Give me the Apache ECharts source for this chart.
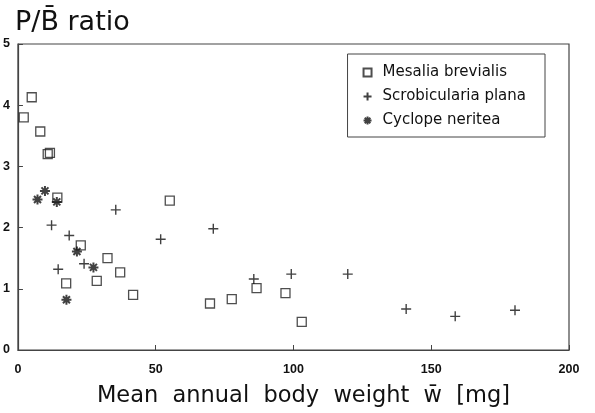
<!DOCTYPE html>
<html><head><meta charset="utf-8">
<script src="https://cdn.jsdelivr.net/npm/echarts@6/dist/echarts.min.js"></script>
<style>html,body{margin:0;padding:0;background:#fff}#c{width:595px;height:413px}</style>
</head><body><div id="c"></div>
<script>
// Mesalia brevialis (squares): [weight mg, P/B]
const mesaliaX = [2.1, 5.0, 8.1, 10.8, 11.6, 14.3, 22.8, 17.5, 32.5, 28.6, 37.1, 41.8, 55.1, 69.7, 77.6, 86.6, 97.1, 103.0];
const mesaliaY = [3.80, 4.13, 3.57, 3.20, 3.22, 2.49, 1.71, 1.09, 1.50, 1.13, 1.27, 0.90, 2.44, 0.76, 0.83, 1.01, 0.93, 0.46];
// Scrobicularia plana (plus)
const scrobX = [12.2, 18.6, 14.6, 24.0, 35.5, 51.8, 70.9, 85.6, 99.2, 119.7, 140.9, 158.7, 180.4];
const scrobY = [2.04, 1.87, 1.32, 1.41, 2.29, 1.81, 1.98, 1.16, 1.24, 1.24, 0.67, 0.55, 0.65];
// Cyclope neritea (asterisk)
const cycloX = [7.1, 9.8, 14.1, 21.4, 27.4, 17.6];
const cycloY = [2.46, 2.60, 2.42, 1.61, 1.35, 0.82];
const xTicks = [0, 50, 100, 150, 200];
const yTicks = [0, 1, 2, 3, 4, 5];
const seriesNames = ['Mesalia brevialis', 'Scrobicularia plana', 'Cyclope neritea'];

const zip = (a, b) => a.map((v, i) => [v, b[i]]);
const squarePath = 'path://M0,0L10,0L10,10L0,10Z';
const plusPath = 'path://M0,5L10,5M5,0L5,10';
const starPath = 'path://M0,5L10,5M5,0L5,10M1.5,1.5L8.5,8.5M8.5,1.5L1.5,8.5';
const font = 'DejaVu Sans, Verdana, sans-serif';
const tickFont = 'Liberation Sans, Arial, Helvetica, sans-serif';

const chart = echarts.init(document.getElementById('c'), null, {renderer: 'canvas'});
chart.setOption({
  animation: false,
  backgroundColor: '#fff',
  title: {
    text: 'P/B\u0304 ratio', left: 15, top: 9, padding: 0,
    textStyle: {fontFamily: font, fontSize: 27, fontWeight: 'normal', color: '#111'}
  },
  grid: {left: 17, right: 26, top: 44, bottom: 57, show: true, borderColor: '#444', borderWidth: 1.2, backgroundColor: 'transparent'},
  legend: {
    right: 50, top: 54, orient: 'vertical', itemGap: 9, itemWidth: 20, itemHeight: 8,
    padding: [11, 19, 9, 15], borderColor: '#444', borderWidth: 1, backgroundColor: '#fff',
    textStyle: {fontFamily: font, fontSize: 15, color: '#111'},
    data: [
      {name: seriesNames[0], icon: squarePath},
      {name: seriesNames[1], icon: plusPath},
      {name: seriesNames[2], icon: starPath}
    ]
  },
  xAxis: {
    type: 'value', min: 0, max: 200, interval: 50,
    name: 'Mean  annual  body  weight  w\u0304  [mg]', nameLocation: 'middle', nameGap: 35,
    nameTextStyle: {fontFamily: font, fontSize: 22.5, color: '#111', padding: [0, 0, 0, 20]},
    axisLine: {show: true, lineStyle: {color: '#444', width: 1.2}},
    axisTick: {show: true, inside: true, length: 5, lineStyle: {color: '#444'}},
    axisLabel: {fontFamily: tickFont, fontSize: 12.5, fontWeight: 'bold', color: '#111', margin: 13,
      formatter: v => xTicks.includes(v) ? String(v) : ''},
    splitLine: {show: false}
  },
  yAxis: {
    type: 'value', min: 0, max: 5, interval: 1,
    axisLine: {show: true, lineStyle: {color: '#444', width: 1.2}},
    axisTick: {show: true, inside: true, length: 5, lineStyle: {color: '#444'}},
    axisLabel: {fontFamily: tickFont, fontSize: 12.5, fontWeight: 'bold', color: '#111', margin: 8,
      formatter: v => yTicks.includes(v) ? String(v) : ''},
    splitLine: {show: false}
  },
  series: [
    {name: seriesNames[0], type: 'scatter', symbol: 'rect', symbolSize: 9, data: zip(mesaliaX, mesaliaY),
      itemStyle: {color: 'rgba(255,255,255,0)', borderColor: '#222', borderWidth: 1.3}},
    {name: seriesNames[1], type: 'scatter', symbol: plusPath, symbolSize: 10, data: zip(scrobX, scrobY),
      itemStyle: {color: 'rgba(0,0,0,0)', borderColor: '#111', borderWidth: 1.4}},
    {name: seriesNames[2], type: 'scatter', symbol: starPath, symbolSize: 10, data: zip(cycloX, cycloY),
      itemStyle: {color: 'rgba(0,0,0,0)', borderColor: '#111', borderWidth: 2}}
  ]
});
</script></body></html>
